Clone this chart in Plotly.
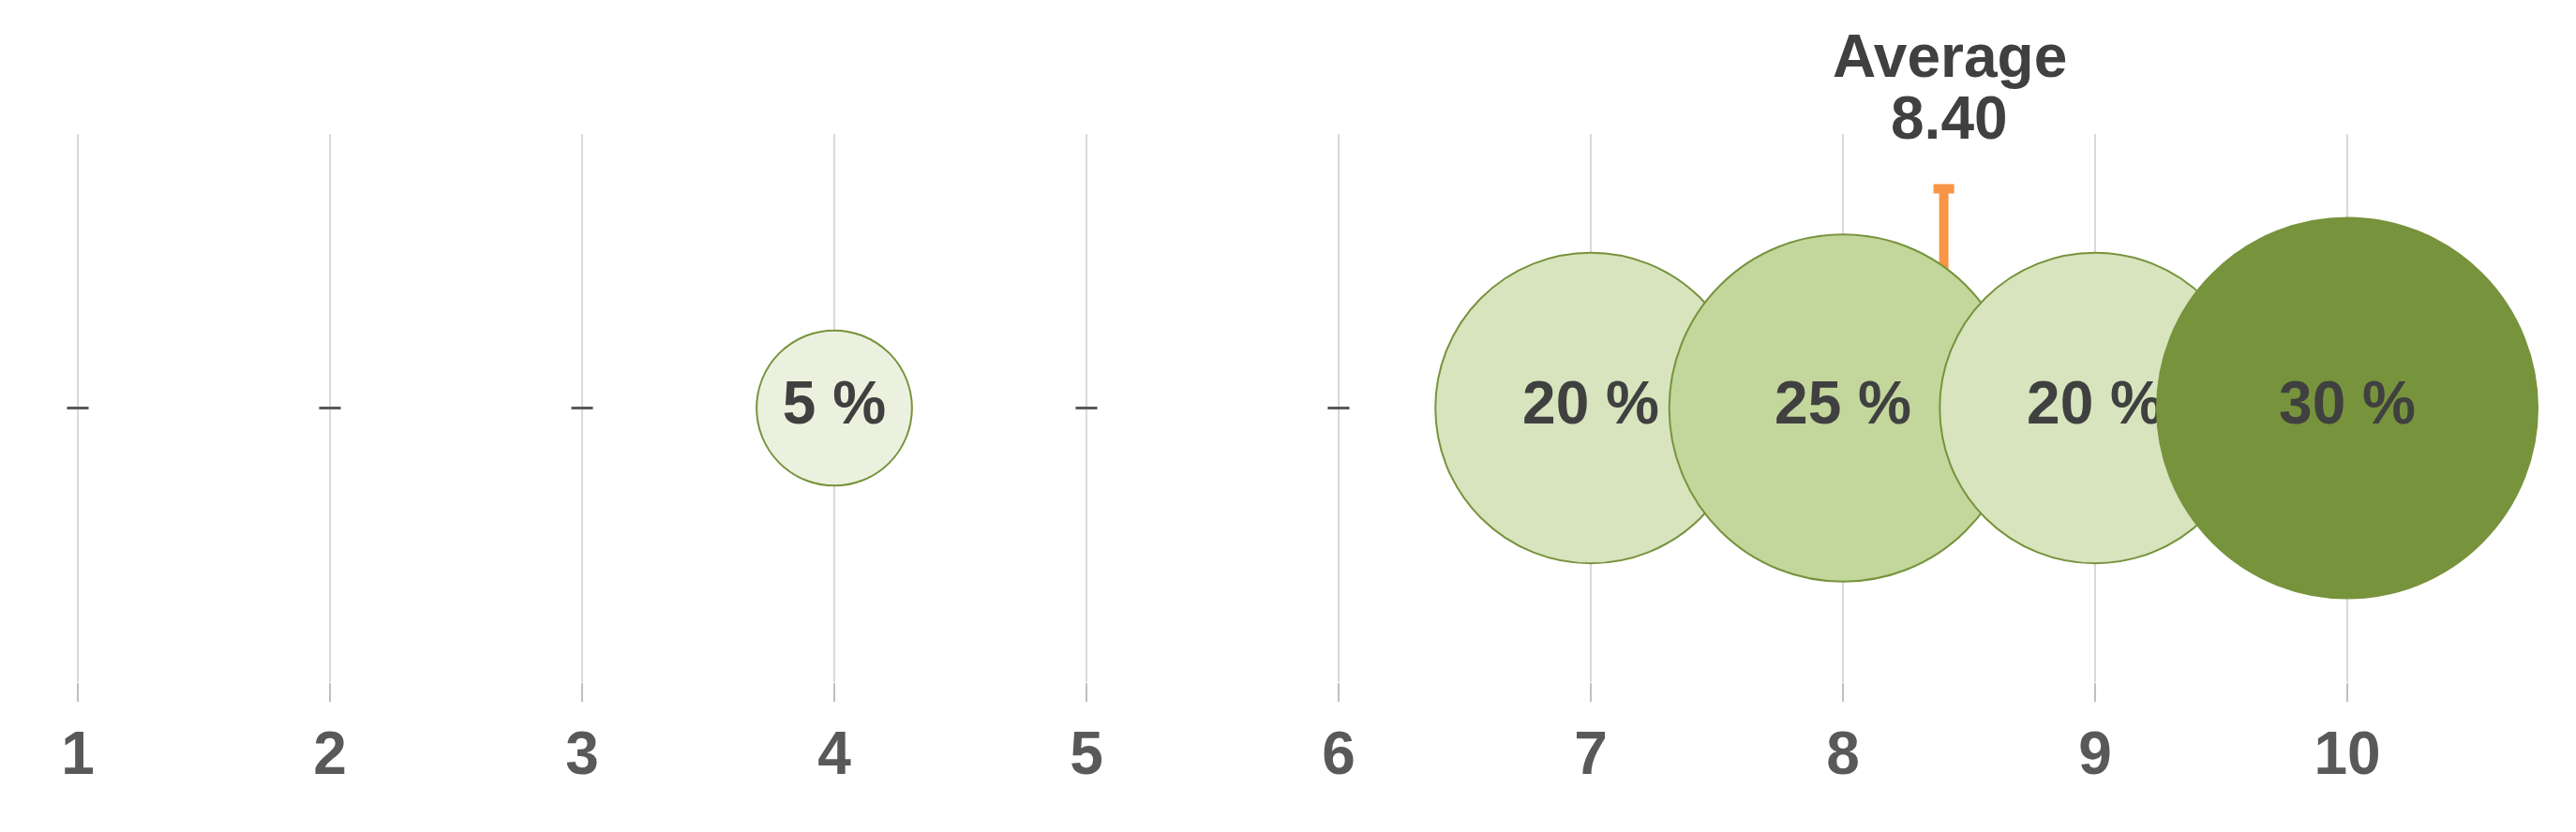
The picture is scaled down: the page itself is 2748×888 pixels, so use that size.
import plotly.graph_objects as go

# Share of answers per score (1..10)
scores = [1, 2, 3, 4, 5, 6, 7, 8, 9, 10]
shares = [0, 0, 0, 5, 0, 0, 20, 25, 20, 30]
tick_labels = [str(s) for s in scores]

avg = sum(s * p for s, p in zip(scores, shares)) / sum(shares)
avg_tip = 0.80  # height of the orange average marker

# fill shade by share size
shade = {5: "#ebf1de", 20: "#d7e4bd", 25: "#c3d69b", 30: "#77933c"}

FONT = "Liberation Sans, Arial, sans-serif"
TXT = "#404040"

bx = [s for s, p in zip(scores, shares) if p > 0]
bp = [p for p in shares if p > 0]
zx = [s for s, p in zip(scores, shares) if p == 0]

fig = go.Figure()

# average marker (behind bubbles)
fig.add_trace(go.Scatter(
    x=[avg], y=[0], mode="markers",
    marker=dict(size=1, opacity=0),
    error_y=dict(type="data", array=[avg_tip], arrayminus=[0], symmetric=False,
                 color="#f79646", thickness=10, width=11),
    hoverinfo="skip", showlegend=False))

# empty scores shown as small dashes
fig.add_trace(go.Scatter(
    x=zx, y=[0] * len(zx), mode="markers",
    marker=dict(symbol="line-ew", size=16.5, line=dict(width=3, color="#595959")),
    showlegend=False))

# one trace per bubble so later ones sit on top
for x, p in zip(bx, bp):
    fig.add_trace(go.Scatter(
        x=[x], y=[0], mode="markers+text",
        text=[f"{p} %"], textposition="middle center",
        textfont=dict(family=FONT, size=64, color=TXT, weight="bold"),
        marker=dict(size=[p], sizemode="area", sizeref=3.64e-4,
                    color=shade[p], opacity=1,
                    line=dict(width=2, color="#77933c")),
        cliponaxis=False, showlegend=False))

fig.add_annotation(x=avg, y=1.142, xref="x", yref="paper", text="<b>Average</b>",
                   showarrow=False, font=dict(family=FONT, size=64, color=TXT),
                   xanchor="center", yanchor="middle", xshift=6)
fig.add_annotation(x=avg, y=1.029, xref="x", yref="paper", text=f"<b>{avg:.2f}</b>",
                   showarrow=False, font=dict(family=FONT, size=64, color=TXT),
                   xanchor="center", yanchor="middle", xshift=6)

# page body has an 8px margin, so the plot is nudged up/left by that much
fig.update_layout(
    width=2748, height=888,
    margin=dict(l=0, r=0, t=135, b=168),
    paper_bgcolor="white", plot_bgcolor="white",
    xaxis=dict(range=[0.7212, 10.9368], tickmode="array", tickvals=scores,
               ticktext=tick_labels, showgrid=True, gridcolor="#d9d9d9",
               gridwidth=2, zeroline=False, showline=False,
               ticks="outside", ticklen=20, tickwidth=2, tickcolor="#bfbfbf",
               tickfont=dict(family=FONT, size=64, color="#595959", weight="bold")),
    yaxis=dict(range=[-1, 1], visible=False, showgrid=False, zeroline=False),
    showlegend=False,
)

fig.write_html("out.html")
